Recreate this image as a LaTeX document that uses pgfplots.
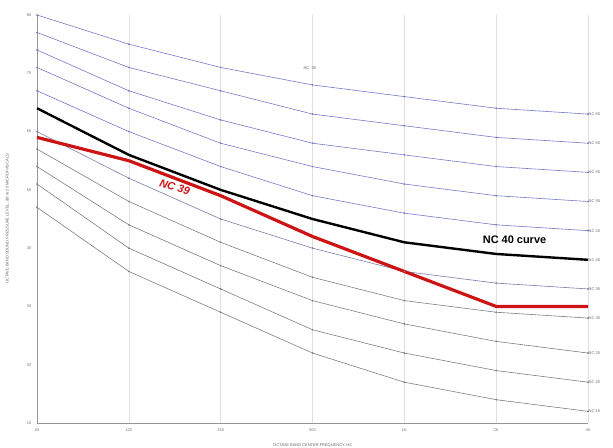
\documentclass[border=0pt]{standalone}
\usepackage{pgfplots}
\pgfplotsset{compat=1.18}
\usepackage{fontspec}
\setmainfont{Liberation Sans}
\setsansfont{Liberation Sans}
\definecolor{ncblue}{RGB}{120,120,200}
\definecolor{ncgray}{RGB}{125,125,135}
\definecolor{ncred}{RGB}{205,20,20}
\definecolor{tickgray}{RGB}{150,150,150}
\begin{document}
\begin{tikzpicture}
\begin{axis}[
  at={(0,0)}, anchor=south west,
  scale only axis, width=551bp, height=408bp,
  xmin=0, xmax=6, ymin=10, ymax=80,
  axis lines=left, axis line style={-, draw=tickgray, line width=0.8pt},
  xtick={0,1,2,3,4,5,6},
  xticklabels={63,125,250,500,1K,2K,4K},
  ytick={10,20,30,40,50,60,70,80},
  tick style={draw=none},
  xmajorgrids, grid style={draw=black!12, line width=0.4pt},
  tick label style={font=\fontsize{4}{4}\selectfont, text=black!55},
  /pgf/number format/assume math mode=true,
  xlabel={OCTAVE BAND CENTER FREQUENCY, HZ},
  ylabel={OCTAVE BAND SOUND PRESSURE LEVEL, dB re 20 MICROPASCALS},
  label style={font=\fontsize{4}{4}\selectfont, text=black!60},
  xlabel style={yshift=-5pt},
  ylabel style={yshift=11pt},
  clip=false,
  mark size=0.5pt,
]
% NC 65 .. 45 (blue)
\addplot[ncblue, line width=0.6pt, mark=*, mark options={fill=ncblue!60!black, draw=none}] coordinates {(0,80)(1,75)(2,71)(3,68)(4,66)(5,64)(6,63)};
\addplot[ncblue, line width=0.6pt, mark=*, mark options={fill=ncblue!60!black, draw=none}] coordinates {(0,77)(1,71)(2,67)(3,63)(4,61)(5,59)(6,58)};
\addplot[ncblue, line width=0.6pt, mark=*, mark options={fill=ncblue!60!black, draw=none}] coordinates {(0,74)(1,67)(2,62)(3,58)(4,56)(5,54)(6,53)};
\addplot[ncblue, line width=0.6pt, mark=*, mark options={fill=ncblue!60!black, draw=none}] coordinates {(0,71)(1,64)(2,58)(3,54)(4,51)(5,49)(6,48)};
\addplot[ncblue, line width=0.6pt, mark=*, mark options={fill=ncblue!60!black, draw=none}] coordinates {(0,67)(1,60)(2,54)(3,49)(4,46)(5,44)(6,43)};
% NC 35
\addplot[ncblue!60!gray, line width=0.6pt, mark=*, mark options={fill=ncblue!50!black, draw=none}] coordinates {(0,60)(1,52)(2,45)(3,40)(4,36)(5,34)(6,33)};
% NC 30 .. 15 (gray)
\addplot[ncgray, line width=0.6pt, mark=*, mark options={fill=black!70, draw=none}] coordinates {(0,57)(1,48)(2,41)(3,35)(4,31)(5,29)(6,28)};
\addplot[ncgray, line width=0.6pt, mark=*, mark options={fill=black!70, draw=none}] coordinates {(0,54)(1,44)(2,37)(3,31)(4,27)(5,24)(6,22)};
\addplot[ncgray, line width=0.6pt, mark=*, mark options={fill=black!70, draw=none}] coordinates {(0,51)(1,40)(2,33)(3,26)(4,22)(5,19)(6,17)};
\addplot[ncgray, line width=0.6pt, mark=*, mark options={fill=black!70, draw=none}] coordinates {(0,47)(1,36)(2,29)(3,22)(4,17)(5,14)(6,12)};
% NC 40 (black, thick)
\addplot[black, line width=2.4pt] coordinates {(0,64)(1,56)(2,50)(3,45)(4,41)(5,39)(6,38)};
% NC 39 measured (red)
\addplot[ncred, line width=3.2pt] coordinates {(0,59)(1,55)(2,49)(3,42)(4,36)(5,30)(6,30)};
% right-end labels
\foreach \v/\n in {63/65,58/60,53/55,48/50,43/45,38/40,33/35,28/30,22/25,17/20,12/15}{
  \edef\tmp{\noexpand\node[anchor=west, inner sep=0.5pt, font=\noexpand\fontsize{4}{4}\noexpand\selectfont, text=black!60] at (axis cs:6,\v) {NC \n};}
  \tmp
}
\node[font=\fontsize{4}{4}\selectfont, text=black!60] at (axis cs:2.97,70.9) {NC\ \ 39};
\node[font=\bfseries\itshape\fontsize{11}{11}\selectfont, text=ncred, rotate=-17] at (axis cs:1.5,50.5) {NC 39};
\node[font=\bfseries\fontsize{11}{11}\selectfont, text=black] at (axis cs:5.2,41.4) {NC 40 curve};
\end{axis}
\pgfresetboundingbox
\path (-37bp,-25bp) rectangle (576bp,423bp);
\end{tikzpicture}
\end{document}
